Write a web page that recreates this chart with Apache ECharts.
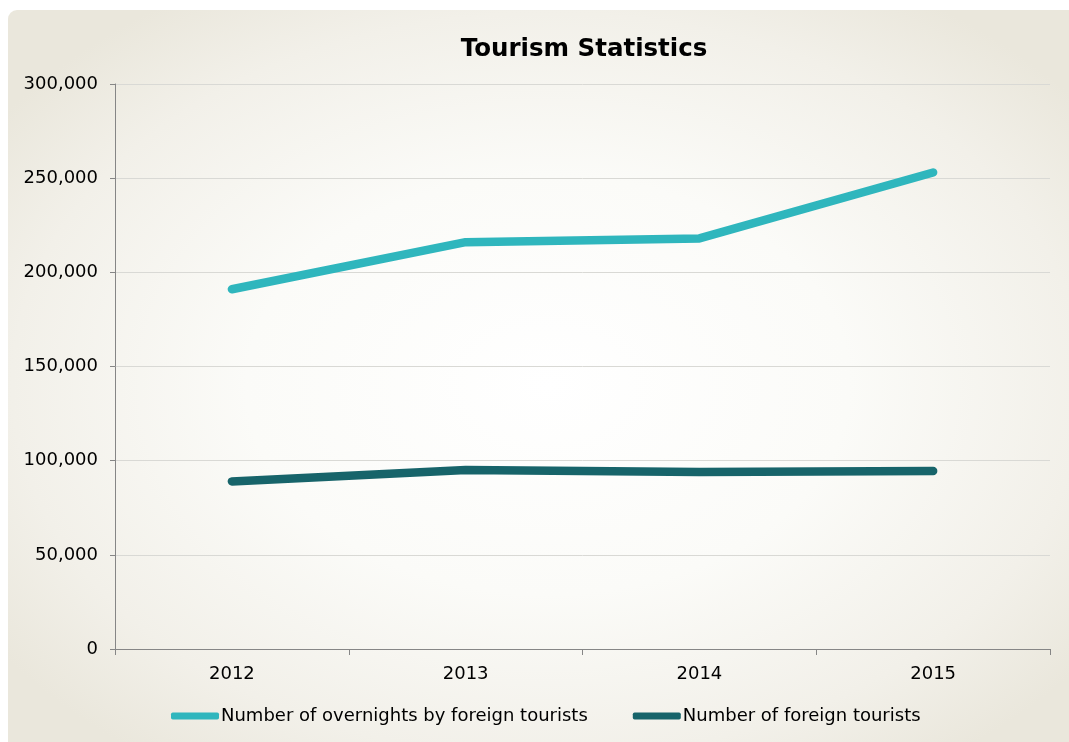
<!DOCTYPE html>
<html>
<head>
<meta charset="utf-8">
<script src="https://cdn.jsdelivr.net/npm/echarts@6/dist/echarts.min.js"></script>
<style>
  html, body { margin: 0; padding: 0; background: #ffffff; width: 1069px; height: 742px; overflow: hidden; }
  #panel {
    position: absolute; left: 8px; top: 10px; width: 1080px; height: 750px;
    border-radius: 9px;
    background: radial-gradient(ellipse 62% 62% at 50% 50%, #ffffff 0%, #fbfbf8 45%, #f2f0e9 80%, #eae7dc 100%);
  }
  #chart { position: absolute; left: 0; top: 0; width: 1069px; height: 742px; }
</style>
</head>
<body>
<div id="panel"></div>
<div id="chart"></div>
<script>
// Yearly tourism figures
const years = ['2012', '2013', '2014', '2015'];
const overnights = [191000, 216000, 218000, 253000];
const tourists = [89000, 95000, 94000, 94500];
const seriesNames = ['Number of overnights by foreign tourists', 'Number of foreign tourists'];

const chart = echarts.init(document.getElementById('chart'), null, { renderer: 'canvas' });
const font = 'DejaVu Sans, Verdana, sans-serif';

chart.setOption({
  backgroundColor: 'transparent',
  animation: false,
  title: {
    text: 'Tourism Statistics',
    left: 579, top: 32, textAlign: 'center',
    textStyle: { fontFamily: font, fontSize: 24.5, fontWeight: 'bold', color: '#000' }
  },
  legend: {
    bottom: 12, left: 166,
    itemWidth: 48, itemHeight: 7, itemGap: 45,
    icon: 'roundRect',
    textStyle: { fontFamily: font, fontSize: 18, color: '#000', padding: [0, 0, 0, -3] },
    data: seriesNames
  },
  grid: { left: 115, right: 19, top: 84, bottom: 93 },
  xAxis: {
    type: 'category',
    data: years,
    boundaryGap: true,
    axisLine: { lineStyle: { color: '#868686', width: 1 } },
    axisTick: { show: true, length: 6, lineStyle: { color: '#868686' } },
    axisLabel: { fontFamily: font, fontSize: 18, color: '#000', margin: 16 },
    splitLine: { show: false }
  },
  yAxis: {
    type: 'value',
    min: 0, max: 300000, interval: 50000,
    axisLine: { show: true, lineStyle: { color: '#868686', width: 1 } },
    axisTick: { show: true, length: 5, lineStyle: { color: '#868686' } },
    axisLabel: {
      fontFamily: font, fontSize: 18, color: '#000', margin: 17,
      formatter: v => v.toLocaleString('en-US')
    },
    splitLine: { lineStyle: { color: '#d9d9d5', width: 1 } }
  },
  series: [
    {
      name: seriesNames[0], type: 'line', data: overnights,
      showSymbol: false, symbol: 'none',
      itemStyle: { color: '#2fb6bd' },
      lineStyle: { color: '#2fb6bd', width: 8.5, cap: 'round', join: 'round' }
    },
    {
      name: seriesNames[1], type: 'line', data: tourists,
      showSymbol: false, symbol: 'none',
      itemStyle: { color: '#17646a' },
      lineStyle: { color: '#17646a', width: 8.5, cap: 'round', join: 'round' }
    }
  ]
});
</script>
</body>
</html>
